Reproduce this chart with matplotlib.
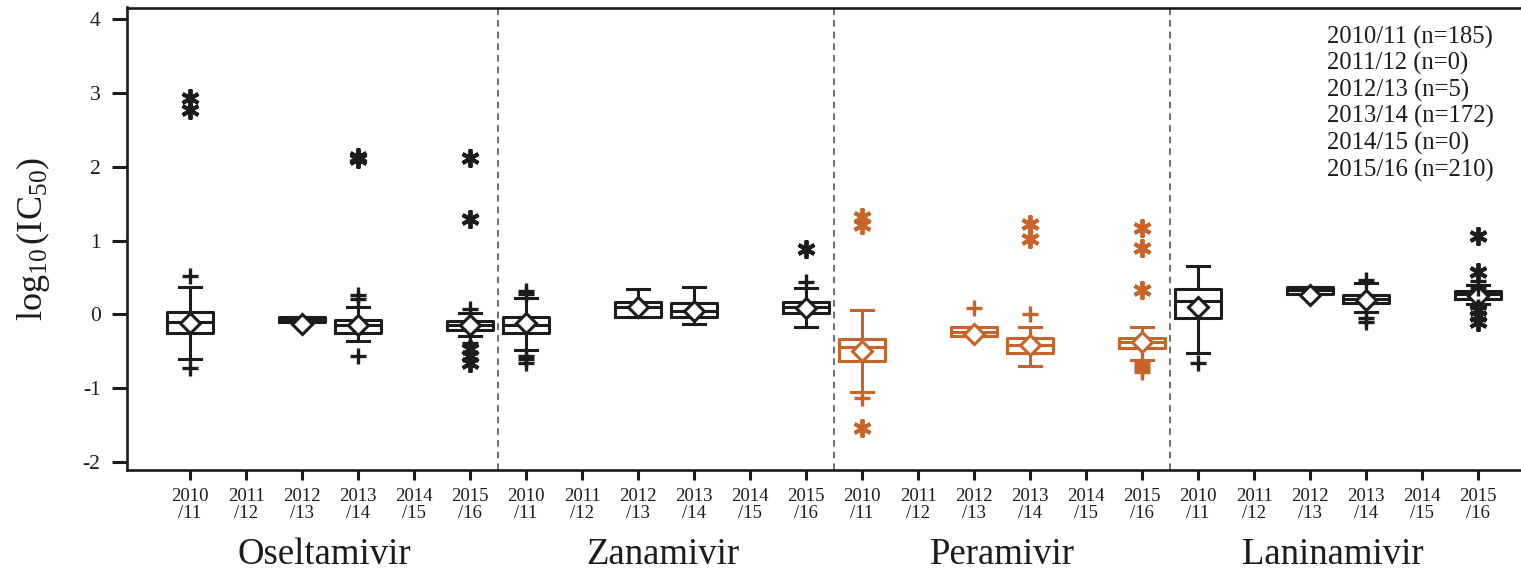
import matplotlib
matplotlib.use("Agg")
import matplotlib.pyplot as plt

plt.rcParams['font.family'] = ['Liberation Serif', 'DejaVu Serif']
plt.rcParams['mathtext.fontset'] = 'custom'
plt.rcParams['mathtext.rm'] = 'Liberation Serif'
plt.rcParams['mathtext.it'] = 'Liberation Serif:italic'

# ---------------- data ----------------
drugs = ["Oseltamivir", "Zanamivir", "Peramivir", "Laninamivir"]
seasons = ["2010\n/11", "2011\n/12", "2012\n/13", "2013\n/14", "2014\n/15", "2015\n/16"]
season_counts = ["2010/11 (n=185)", "2011/12 (n=0)", "2012/13 (n=5)",
                 "2013/14 (n=172)", "2014/15 (n=0)", "2015/16 (n=210)"]
# seasons with data (indices into seasons)
present = [0, 2, 3, 5]

osel_q1 = [-0.25, -0.11, -0.25, -0.21]
osel_med = [-0.10, -0.06, -0.15, -0.15]
osel_q3 = [0.03, -0.04, -0.07, -0.09]
osel_lo = [-0.60, -0.11, -0.36, -0.30]
osel_hi = [0.37, -0.04, 0.10, 0.02]
osel_mean = [-0.12, -0.13, -0.15, -0.15]
osel_mild = [[0.52, -0.73], [], [0.21, 0.26, -0.56], [0.07, -0.39]]
osel_ext = [[2.93, 2.77], [], [2.10, 2.14], [2.12, 1.29, -0.47, -0.57, -0.66]]

zana_q1 = [-0.25, -0.03, -0.03, 0.02]
zana_med = [-0.14, 0.10, 0.04, 0.10]
zana_q3 = [-0.04, 0.17, 0.16, 0.17]
zana_lo = [-0.48, -0.03, -0.13, -0.17]
zana_hi = [0.22, 0.34, 0.37, 0.36]
zana_mean = [-0.12, 0.10, 0.04, 0.08]
zana_mild = [[0.27, 0.31, -0.57, -0.60, -0.66], [], [], [0.44]]
zana_ext = [[], [], [], [0.89]]

pera_q1 = [-0.63, -0.30, -0.53, -0.46]
pera_med = [-0.44, -0.24, -0.41, -0.38]
pera_q3 = [-0.33, -0.17, -0.32, -0.32]
pera_lo = [-1.05, -0.30, -0.70, -0.62]
pera_hi = [0.06, -0.17, -0.17, -0.17]
pera_mean = [-0.50, -0.26, -0.41, -0.38]
pera_mild = [[-1.13], [0.09], [0.01], [-0.66, -0.70, -0.74, -0.78]]
pera_ext = [[1.32, 1.21, -1.54], [], [1.22, 1.02], [1.17, 0.90, 0.33]]

lani_q1 = [-0.05, 0.27, 0.15, 0.21]
lani_med = [0.18, 0.33, 0.21, 0.27]
lani_q3 = [0.34, 0.37, 0.26, 0.31]
lani_lo = [-0.52, 0.27, 0.03, 0.14]
lani_hi = [0.65, 0.37, 0.43, 0.40]
lani_mean = [0.10, 0.26, 0.19, 0.25]
lani_mild = [[-0.66], [], [0.47, -0.05, -0.11], [0.45, 0.36, 0.10, 0.08]]
lani_ext = [[], [], [], [1.06, 0.58, 0.06, -0.02, -0.10]]

drug_data = [
    (osel_q1, osel_med, osel_q3, osel_lo, osel_hi, osel_mean, osel_mild, osel_ext),
    (zana_q1, zana_med, zana_q3, zana_lo, zana_hi, zana_mean, zana_mild, zana_ext),
    (pera_q1, pera_med, pera_q3, pera_lo, pera_hi, pera_mean, pera_mild, pera_ext),
    (lani_q1, lani_med, lani_q3, lani_lo, lani_hi, lani_mean, lani_mild, lani_ext),
]

BLACK = "#1c1c1c"
ORANGE = "#C8642A"
drug_colors = [BLACK, BLACK, ORANGE, BLACK]

# ---------------- figure ----------------
fig = plt.figure(figsize=(15.21, 5.80), dpi=100)
ax = fig.add_axes([127 / 1521, 1 - 470 / 580, 1 - 127 / 1521, (470 - 7.5) / 580])

nseas = len(seasons)
asterisk = (6, 2, 0)
for d, (q1, med, q3, lo, hi, mn, mild, ext) in enumerate(drug_data):
    col = drug_colors[d]
    stats = []
    pos = []
    for k, s in enumerate(present):
        stats.append(dict(q1=q1[k], med=med[k], q3=q3[k], whislo=lo[k], whishi=hi[k],
                          mean=mn[k], fliers=[]))
        pos.append(d * nseas + s)
    lw = 2.2
    ax.bxp(stats, positions=pos, widths=0.82, capwidths=0.40, showmeans=True,
           showfliers=False, manage_ticks=False,
           boxprops=dict(color=col, linewidth=lw),
           whiskerprops=dict(color=col, linewidth=lw),
           capprops=dict(color=col, linewidth=lw),
           medianprops=dict(color=col, linewidth=lw),
           meanprops=dict(marker='D', markerfacecolor='white', markeredgecolor=col,
                          markersize=10, markeredgewidth=2.2))
    for k, s in enumerate(present):
        x = d * nseas + s
        if mild[k]:
            ax.plot([x] * len(mild[k]), mild[k], linestyle='none', marker='+',
                    color=col, markersize=11, markeredgewidth=2.4, zorder=3)
        if ext[k]:
            ax.plot([x] * len(ext[k]), ext[k], linestyle='none', marker=asterisk,
                    color=col, markersize=13, markeredgewidth=2.8, zorder=3)

# separators
for d in range(1, len(drugs)):
    ax.axvline(d * nseas - 0.5, color="#555555", linestyle=(0, (4, 3)), linewidth=1.2)

ax.set_xlim(-1.125, (1521 - 190) / 56)
ax.set_ylim(-2.11, 4.16)

ax.set_xticks(range(nseas * len(drugs)))
ax.set_xticklabels(seasons * len(drugs), fontsize=13.5, linespacing=1.0, color=BLACK)
ax.set_yticks(range(-2, 5))
ax.set_yticklabels([str(v) for v in range(-2, 5)], fontsize=15.5, color=BLACK)

ax.tick_params(axis='x', length=7, width=2.2, pad=6, color=BLACK)
ax.tick_params(axis='y', length=11, width=2.2, pad=8, color=BLACK)
for sp in ['left', 'bottom', 'top']:
    ax.spines[sp].set_linewidth(1.9)
    ax.spines[sp].set_color(BLACK)
ax.spines['right'].set_visible(False)

ax.set_ylabel(r'$\mathrm{log}_{10}\,(\mathrm{IC}_{50})$', fontsize=26, color=BLACK, labelpad=22)

# drug group labels
group_centers = [2.4, 8.45, 14.5, 20.4]
for name, cx in zip(drugs, group_centers):
    ax.text(cx, -0.184, name, transform=ax.get_xaxis_transform(), ha='center',
            va='center', fontsize=26.5, color=BLACK)

# season count legend
for i, t in enumerate(season_counts):
    ax.text(0.861, (470 - 37 - 26.6 * i) / 462.5, t, transform=ax.transAxes,
            ha='left', va='center', fontsize=17.7, color=BLACK)

fig.savefig("out.png", dpi=100)
